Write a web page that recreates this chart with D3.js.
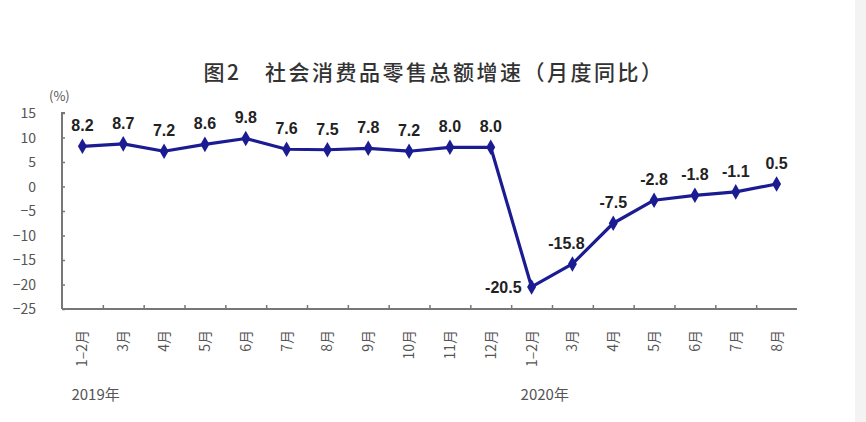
<!DOCTYPE html>
<html><head><meta charset="utf-8">
<script src="https://cdn.jsdelivr.net/npm/d3@7"></script>
<style>body{margin:0;background:#fff}svg{display:block}</style>
</head><body>
<svg id="c" width="866" height="422"></svg>
<script>
const months = ["1–2月","3月","4月","5月","6月","7月","8月","9月","10月","11月","12月","1–2月","3月","4月","5月","6月","7月","8月"];
const values = [8.2,8.7,7.2,8.6,9.8,7.6,7.5,7.8,7.2,8.0,8.0,-20.5,-15.8,-7.5,-2.8,-1.8,-1.1,0.5];
const yTicks = [15,10,5,0,-5,-10,-15,-20,-25];
const years = [{label:"2019年", start:0},{label:"2020年", start:11}];
const title = "图2　社会消费品零售总额增速（月度同比）";
const unit = "(%)";

(function(){
const svg = d3.select("#c");
const font = "'Noto Sans CJK SC','Noto Sans',sans-serif";
svg.append("rect").attr("x",855).attr("y",0).attr("width",11).attr("height",422).attr("fill","#f3f3f3");

const L = 62, R = 797, T = 113, B = 309;
const x = d3.scaleBand().domain(d3.range(months.length)).range([L,R]).padding(0);
const y = d3.scaleLinear().domain([-25,15]).range([B,T]);

svg.append("text").attr("x",434).attr("y",80).attr("text-anchor","middle")
  .attr("font-family",font).attr("font-size",21).attr("letter-spacing",2.5).attr("font-weight",500).attr("fill","#333").text(title);
svg.append("text").attr("x",49).attr("y",101).attr("font-family",font).attr("font-size",13).attr("fill","#555").text(unit);

// y axis
const ya = svg.append("g").attr("transform",`translate(${L},0)`)
  .call(d3.axisRight(y).tickValues(yTicks).tickSize(3).tickFormat(""));
ya.select(".domain").attr("stroke","#777").attr("stroke-width",2).attr("d",`M3,${T}H0V${B}`);
ya.selectAll(".tick line").attr("stroke","#777").attr("stroke-width",1.5);
svg.append("g").selectAll("text").data(yTicks).join("text")
  .attr("x",36).attr("y",d=>y(d)).attr("dy","0.36em").attr("text-anchor","end")
  .attr("font-family",font).attr("font-size",14).attr("fill","#555")
  .text(d=>d<0?"−"+Math.abs(d):d);

// x axis
const xa = svg.append("g").attr("transform",`translate(0,${B})`)
  .call(d3.axisTop(d3.scaleLinear().domain([0,months.length]).range([L,R]))
    .tickValues(d3.range(1,months.length)).tickSize(4).tickFormat(""));
xa.select(".domain").attr("stroke","#777").attr("stroke-width",2).attr("d",`M${L},0H${R}`);
xa.selectAll(".tick line").attr("stroke","#777").attr("stroke-width",1.5);

svg.append("g").selectAll("text").data(months).join("text")
  .attr("transform",(d,i)=>`translate(${x(i)+x.bandwidth()/2+5},330) rotate(-90)`)
  .attr("text-anchor","end").attr("font-family",font).attr("font-size",14).attr("fill","#555")
  .text(d=>d);

svg.append("g").selectAll("text").data(years).join("text")
  .attr("x",d=>x(d.start)+x.bandwidth()/2-11).attr("y",400)
  .attr("font-family",font).attr("font-size",15).attr("fill","#555").text(d=>d.label);

// line
const cx = i => x(i)+x.bandwidth()/2;
svg.append("path").datum(values)
  .attr("d",d3.line().x((d,i)=>cx(i)).y(d=>y(d)))
  .attr("fill","none").attr("stroke","#1c1c92").attr("stroke-width",3.2).attr("stroke-linejoin","round");
svg.append("g").selectAll("path").data(values).join("path")
  .attr("transform",(d,i)=>`translate(${cx(i)},${y(d)})`)
  .attr("d",d3.symbol(d3.symbolDiamond,70)).attr("fill","#1c1c92");

// labels
svg.append("g").selectAll("text").data(values).join("text")
  .attr("x",(d,i)=> i===11 ? cx(i)-10 : i===12 ? cx(i)-6 : cx(i))
  .attr("y",(d,i)=> i===11 ? y(d) : y(d)-21)
  .attr("dy","0.36em")
  .attr("text-anchor",(d,i)=> i===11 ? "end" : "middle")
  .attr("font-family","'Liberation Sans',Arial,sans-serif").attr("font-size",16).attr("font-weight","bold").attr("fill","#222")
  .text(d=>d.toFixed(1));
})();
</script>
</body></html>
